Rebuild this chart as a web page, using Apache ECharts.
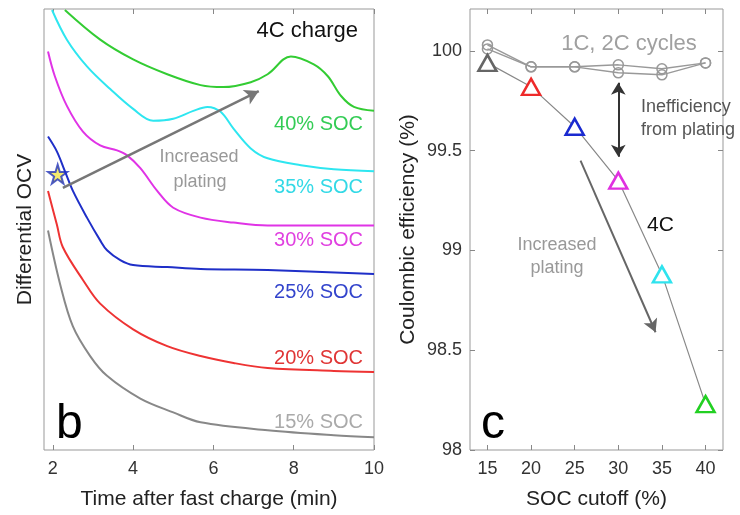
<!DOCTYPE html>
<html><head><meta charset="utf-8">
<script src="https://cdn.jsdelivr.net/npm/echarts@6/dist/echarts.min.js"></script>
<style>html,body{margin:0;padding:0;background:#fff}#c{width:740px;height:515px}</style>
</head><body><div id="c"></div>
<script>
// ---- Panel b: differential OCV curves (arbitrary units) ----
const t40 = [2.3,3.18,4.0,4.85,5.68,6.25,6.93,7.35,7.93,8.5,8.85,9.18,9.5,10];
const v40 = [445,415,395,380,369,367,372,380,398,390,378,358,347,343];
const t35 = [1.98,2.35,2.85,3.43,4.0,4.5,5.0,5.5,5.85,6.18,6.5,6.93,7.35,8.18,9.0,10];
const v35 = [445,415,388,365,345,333,335,343,347,342,325,305,295,288,284,282];
const t30 = [1.88,2.05,2.35,2.75,3.18,3.6,3.85,4.18,4.6,5.0,5.68,6.5,7.35,10];
const v30 = [403,378,348,322,308,303,298,285,262,245,235,230,227,227];
const t25 = [1.88,2.1,2.3,2.5,2.85,3.18,3.35,3.68,4.0,4.85,5.68,7.35,10];
const v25 = [317,302,282,262,235,212,202,192,187,185,183,182,178];
const t20 = [1.88,2.1,2.25,2.75,3.18,4.0,4.85,5.68,6.5,7.35,9.0,10];
const v20 = [262,228,205,172,148,122,105,95,88,83,80,79];
const t15 = [1.88,2.18,2.5,2.93,3.35,4.18,5.0,5.68,7.35,9.0,10];
const v15 = [222,168,125,95,75,52,38,28,20,15,13];
const starPoint = [2.12, 279];
const bTicks = [2,4,6,8,10];
const socLabels = ['40% SOC','35% SOC','30% SOC','25% SOC','20% SOC','15% SOC'];

// ---- Panel c: Coulombic efficiency ----
const socCut = [15,20,25,30,35,40];
const ce4C = [99.94,99.82,99.62,99.35,98.88,98.23];
const ce1C = [100.03,99.92,99.92,99.93,99.91,99.94];
const ce2C = [100.01,99.92,99.92,99.89,99.88,99.94];
const cXTicks = [15,20,25,30,35,40];
const cYTicks = [98,98.5,99,99.5,100];

const FF = '"Liberation Sans", Arial, Helvetica, sans-serif';
const zip = (a,b)=>a.map((v,i)=>[v,b[i]]);
const triColors = ['#666666','#ee2a2a','#1a2ad0','#e030e0','#2fe3ee','#22d022'];

const chart = echarts.init(document.getElementById('c'));
const tickInside = (vals)=>({show:true,inside:true,length:5,customValues:vals,lineStyle:{color:'#888'}});

function curve(name,t,v,color,extra){
  return Object.assign({name,type:'line',xAxisIndex:0,yAxisIndex:0,data:zip(t,v),smooth:0.35,
    showSymbol:false,symbol:'none',lineStyle:{color,width:2},silent:true,clip:true},extra||{});
}

const option = {
  animation:false,
  textStyle:{fontFamily:FF},
  grid:[
    {left:44,right:366,top:9,bottom:60,show:true,borderColor:'#999',borderWidth:1},
    {left:470,right:17,top:9,bottom:60,show:true,borderColor:'#999',borderWidth:1}
  ],
  xAxis:[
    {type:'value',gridIndex:0,min:1.78,max:10,position:'bottom',splitLine:{show:false},axisLine:{show:false},
     axisTick:tickInside(bTicks),axisLabel:{customValues:bTicks,color:'#333',fontSize:18,margin:10,fontFamily:FF},
     name:'Time after fast charge (min)',nameLocation:'middle',nameGap:39,nameTextStyle:{fontSize:21,color:'#222',fontFamily:FF}},
    {type:'value',gridIndex:0,min:1.78,max:10,position:'top',splitLine:{show:false},axisLine:{show:false},
     axisTick:tickInside(bTicks),axisLabel:{show:false}},
    {type:'value',gridIndex:1,min:13,max:42,position:'bottom',splitLine:{show:false},axisLine:{show:false},
     axisTick:tickInside(cXTicks),axisLabel:{customValues:cXTicks,color:'#333',fontSize:18,margin:10,fontFamily:FF},
     name:'SOC cutoff (%)',nameLocation:'middle',nameGap:39,nameTextStyle:{fontSize:21,color:'#222',fontFamily:FF}},
    {type:'value',gridIndex:1,min:13,max:42,position:'top',splitLine:{show:false},axisLine:{show:false},
     axisTick:tickInside(cXTicks),axisLabel:{show:false}}
  ],
  yAxis:[
    {type:'value',gridIndex:0,min:0,max:446,splitLine:{show:false},axisLine:{show:false},axisTick:{show:false},axisLabel:{show:false},
     name:'Differential OCV',nameLocation:'middle',nameGap:8,nameTextStyle:{fontSize:21,color:'#222',fontFamily:FF}},
    {type:'value',gridIndex:1,min:98,max:100.21,position:'left',splitLine:{show:false},axisLine:{show:false},
     axisTick:tickInside(cYTicks),axisLabel:{customValues:cYTicks,color:'#333',fontSize:18,margin:8,fontFamily:FF},
     name:'Coulombic efficiency (%)',nameLocation:'middle',nameGap:51,nameTextStyle:{fontSize:21,color:'#222',fontFamily:FF}},
    {type:'value',gridIndex:1,min:98,max:100.21,position:'right',splitLine:{show:false},axisLine:{show:false},
     axisTick:tickInside(cYTicks),axisLabel:{show:false}}
  ],
  series:[
    curve('40%',t40,v40,'#33cc33'),
    curve('35%',t35,v35,'#2ee6f0'),
    curve('30%',t30,v30,'#e033e6'),
    curve('25%',t25,v25,'#1f2fc8'),
    curve('20%',t20,v20,'#ee3333'),
    curve('15%',t15,v15,'#888888',{
      markLine:{silent:true,symbol:['none','arrow'],symbolSize:[12,14],label:{show:false},
        lineStyle:{color:'#777',width:2.5,type:'solid'},
        data:[[{coord:[2.25,265]},{coord:[7.13,363]}]]}
    }),
    {type:'scatter',xAxisIndex:0,yAxisIndex:0,data:[starPoint],
     symbol:'path://M50,0 L61,35 L98,35 L68,57 L79,91 L50,70 L21,91 L32,57 L2,35 L39,35 Z',
     symbolSize:19,itemStyle:{color:'#f2e64a',borderColor:'#2233bb',borderWidth:2},silent:true},
    {name:'1C',type:'line',xAxisIndex:2,yAxisIndex:1,data:zip(socCut,ce1C),symbol:'circle',symbolSize:10,
     lineStyle:{color:'#999',width:1.5},itemStyle:{color:'rgba(255,255,255,0)',borderColor:'#999',borderWidth:1.5},silent:true,
     markLine:{silent:true,symbol:['arrow','arrow'],symbolSize:[11,12],label:{show:false},
       lineStyle:{color:'#333',width:2,type:'solid'},
       data:[[{coord:[30,99.84]},{coord:[30,99.47]}]]}},
    {name:'2C',type:'line',xAxisIndex:2,yAxisIndex:1,data:zip(socCut,ce2C),symbol:'circle',symbolSize:10,
     lineStyle:{color:'#999',width:1.5},itemStyle:{color:'rgba(255,255,255,0)',borderColor:'#999',borderWidth:1.5},silent:true,
     markLine:{silent:true,symbol:['none','arrow'],symbolSize:[11,13],label:{show:false},
       lineStyle:{color:'#666',width:2,type:'solid'},
       data:[[{coord:[25.67,99.45]},{coord:[34.27,98.59]}]]}},
    {name:'4C',type:'line',xAxisIndex:2,yAxisIndex:1,
     data:ce4C.map((v,i)=>({value:[socCut[i],v],itemStyle:{borderColor:triColors[i]}})),
     symbol:'triangle',symbolSize:[18,16],lineStyle:{color:'#888',width:1.2},
     itemStyle:{color:'#fff',borderWidth:2.5},silent:true,z:5}
  ],
  graphic:[
    {type:'text',style:{text:'4C charge',x:358,y:31,align:'right',verticalAlign:'middle',fill:'#111',font:'22px '+FF}},
    {type:'text',style:{text:socLabels[0],x:363,y:124,align:'right',verticalAlign:'middle',fill:'#33cc55',font:'20px '+FF}},
    {type:'text',style:{text:socLabels[1],x:363,y:187,align:'right',verticalAlign:'middle',fill:'#33d9e6',font:'20px '+FF}},
    {type:'text',style:{text:socLabels[2],x:363,y:240,align:'right',verticalAlign:'middle',fill:'#e040e0',font:'20px '+FF}},
    {type:'text',style:{text:socLabels[3],x:363,y:292,align:'right',verticalAlign:'middle',fill:'#3344cc',font:'20px '+FF}},
    {type:'text',style:{text:socLabels[4],x:363,y:358,align:'right',verticalAlign:'middle',fill:'#e03535',font:'20px '+FF}},
    {type:'text',style:{text:socLabels[5],x:363,y:422,align:'right',verticalAlign:'middle',fill:'#aaaaaa',font:'20px '+FF}},
    {type:'text',style:{text:'Increased',x:199,y:157,align:'center',verticalAlign:'middle',fill:'#999',font:'18px '+FF}},
    {type:'text',style:{text:'plating',x:200,y:182,align:'center',verticalAlign:'middle',fill:'#999',font:'18px '+FF}},
    {type:'text',style:{text:'b',x:56,y:425,align:'left',verticalAlign:'middle',fill:'#000',font:'48px '+FF}},
    {type:'text',style:{text:'1C, 2C cycles',x:629,y:44,align:'center',verticalAlign:'middle',fill:'#a0a0a0',font:'22px '+FF}},
    {type:'text',style:{text:'Inefficiency',x:641,y:107,align:'left',verticalAlign:'middle',fill:'#555',font:'18px '+FF}},
    {type:'text',style:{text:'from plating',x:641,y:130,align:'left',verticalAlign:'middle',fill:'#555',font:'18px '+FF}},
    {type:'text',style:{text:'4C',x:647,y:225,align:'left',verticalAlign:'middle',fill:'#111',font:'21px '+FF}},
    {type:'text',style:{text:'Increased',x:557,y:245,align:'center',verticalAlign:'middle',fill:'#999',font:'18px '+FF}},
    {type:'text',style:{text:'plating',x:557,y:268,align:'center',verticalAlign:'middle',fill:'#999',font:'18px '+FF}},
    {type:'text',style:{text:'c',x:481,y:425,align:'left',verticalAlign:'middle',fill:'#000',font:'48px '+FF}}
  ]
};
chart.setOption(option);
</script></body></html>
